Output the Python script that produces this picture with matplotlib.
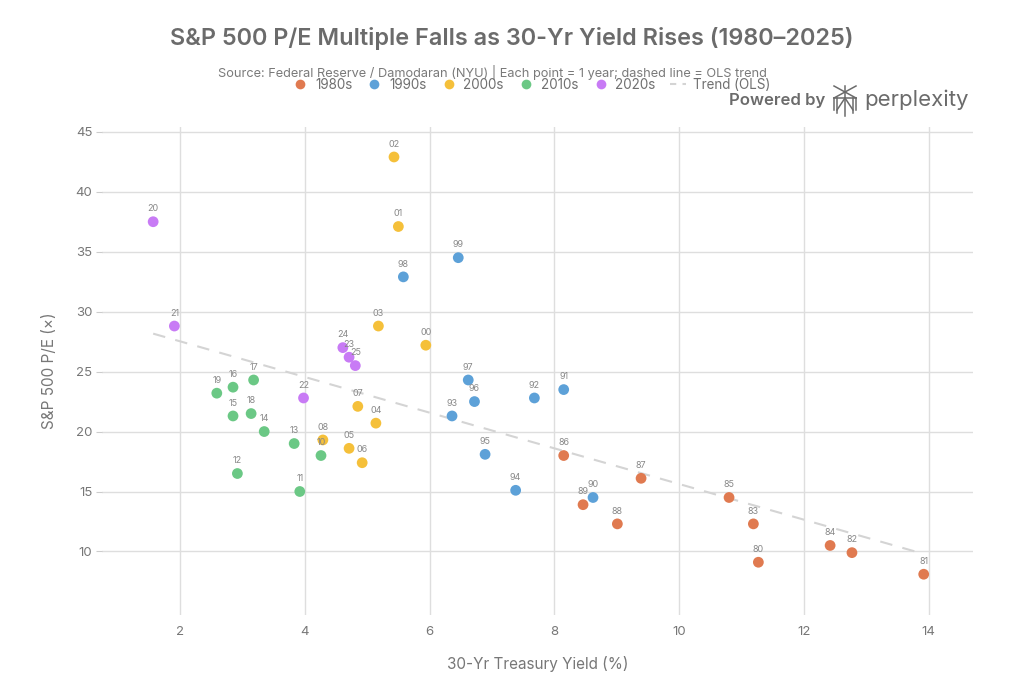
import numpy as np
import matplotlib
matplotlib.use("Agg")
import matplotlib.pyplot as plt
from matplotlib.lines import Line2D

plt.rcParams['font.family'] = ['Inter', 'DejaVu Sans']

# Data (year, 30-yr yield %, S&P 500 P/E)
years = ['80', '81', '82', '83', '84', '85', '86', '87', '88', '89',
         '90', '91', '92', '93', '94', '95', '96', '97', '98', '99',
         '00', '01', '02', '03', '04', '05', '06', '07', '08',
         '10', '11', '12', '13', '14', '15', '16', '17', '18', '19',
         '20', '21', '22', '23', '24', '25']
yields = [11.27, 13.92, 12.77, 11.19, 12.42, 10.80, 8.15, 9.39, 9.01, 8.46,
          8.62, 8.15, 7.68, 6.36, 7.38, 6.89, 6.72, 6.62, 5.58, 6.46,
          5.94, 5.50, 5.43, 5.18, 5.14, 4.71, 4.92, 4.85, 4.29,
          4.26, 3.92, 2.92, 3.83, 3.35, 2.85, 2.85, 3.18, 3.14, 2.59,
          1.57, 1.91, 3.98, 4.71, 4.61, 4.81]
pe = [9.1, 8.1, 9.9, 12.3, 10.5, 14.5, 18.0, 16.1, 12.3, 13.9,
      14.5, 23.5, 22.8, 21.3, 15.1, 18.1, 22.5, 24.3, 32.9, 34.5,
      27.2, 37.1, 42.9, 28.8, 20.7, 18.6, 17.4, 22.1, 19.3,
      18.0, 15.0, 16.5, 19.0, 20.0, 21.3, 23.7, 24.3, 21.5, 23.2,
      37.5, 28.8, 22.8, 26.2, 27.0, 25.5]
decades = ['1980s', '1990s', '2000s', '2010s', '2020s']
decade_colors = {'1980s': '#E07A50', '1990s': '#5DA1D8', '2000s': '#F5C03A',
                 '2010s': '#6BC885', '2020s': '#C87BF5'}


def decade_of(yy):
    n = int(yy)
    if n >= 80:
        return '1980s' if n < 90 else '1990s'
    return ['2000s', '2010s', '2020s'][n // 10]


x = np.array(yields)
y = np.array(pe)

fig = plt.figure(figsize=(10.24, 6.83), dpi=100)
ax = fig.add_axes([102 / 1024, 68 / 683, 871 / 1024, 488 / 683])

# OLS trend
slope, icpt = np.polyfit(x, y, 1)
xt = np.array([x.min(), x.max()])
ax.plot(xt, slope * xt + icpt, color='#d4d4d4', lw=1.5, ls=(0, (6, 5)), zorder=1)

for yy, xi, yi in zip(years, x, y):
    c = decade_colors[decade_of(yy)]
    ax.scatter(xi, yi, s=60, color=c, edgecolor='none', zorder=3)
    ax.annotate(yy, (xi, yi), xytext=(0, 6), textcoords='offset points',
                ha='center', va='bottom', fontsize=6.5, color='#888888', zorder=4)

ax.set_xlim(0.75, 14.71)
ax.set_ylim(4.7, 45.4)
ax.set_xticks([2, 4, 6, 8, 10, 12, 14])
ax.set_yticks([10, 15, 20, 25, 30, 35, 40, 45])
ax.grid(True, color='#dedede', lw=1)
ax.set_axisbelow(True)
for s in ax.spines.values():
    s.set_visible(False)
ax.tick_params(axis='x', length=0, pad=8, labelsize=9.5, labelcolor='#777777')
ax.tick_params(axis='y', length=4, color='#cccccc', pad=3, labelsize=9.5,
               labelcolor='#777777')
ax.set_xlabel('30-Yr Treasury Yield (%)', fontsize=11, color='#777777', labelpad=13)
ax.set_ylabel('S&P 500 P/E (×)', fontsize=11, color='#777777', labelpad=13)

fig.text(0.5, 1 - 38 / 683, 'S&P 500 P/E Multiple Falls as 30-Yr Yield Rises (1980–2025)',
         ha='center', va='center', fontsize=16.9, fontweight='semibold', color='#6b6b6b')
fig.text(492 / 1024, 1 - 72 / 683,
         'Source: Federal Reserve / Damodaran (NYU) | Each point = 1 year; dashed line = OLS trend',
         ha='center', va='center', fontsize=9.2, color='#7a7a7a')

handles = [Line2D([], [], ls='none', marker='o', markersize=7, markeredgecolor='none',
                  color=decade_colors[d], label=d) for d in decades]
handles.append(Line2D([], [], color='#d4d4d4', lw=1.5, ls=(0, (3, 3)), label='Trend (OLS)'))
leg = fig.legend(handles=handles, loc='center', bbox_to_anchor=(531 / 1024, 1 - 85 / 683),
                 ncol=6, frameon=False, fontsize=9.7, handlelength=1.2,
                 handletextpad=0.5, columnspacing=1.05, borderaxespad=0)
for t in leg.get_texts():
    t.set_color('#707070')

# Powered by perplexity
fig.text(825 / 1024, 1 - 101 / 683, 'Powered by', ha='right', va='center',
         fontsize=12, fontweight='semibold', color='#6b6b6b')
fig.text(864 / 1024, 1 - 100 / 683, 'perplexity', ha='left', va='center',
         fontsize=16, color='#6b6b6b')
lx, ly, w, h = 845, 101, 11, 15
segs = [((lx, ly - h), (lx, ly + h)),
        ((lx - w, ly - h), (lx + w, ly - 3)), ((lx + w, ly - h), (lx - w, ly - 3)),
        ((lx - w, ly - 3), (lx - w, ly + 9)), ((lx + w, ly - 3), (lx + w, ly + 9)),
        ((lx - w, ly - 3), (lx + w, ly - 3)),
        ((lx, ly - 3), (lx - w + 3, ly + 9)), ((lx, ly - 3), (lx + w - 3, ly + 9)),
        ((lx - w + 3, ly - 3), (lx - w + 3, ly + 12)), ((lx + w - 3, ly - 3), (lx + w - 3, ly + 12))]
for (x0, y0), (x1, y1) in segs:
    fig.add_artist(Line2D([x0 / 1024, x1 / 1024], [1 - y0 / 683, 1 - y1 / 683],
                          color='#6b6b6b', lw=1.1, transform=fig.transFigure))

fig.savefig('out.png', dpi=100)
